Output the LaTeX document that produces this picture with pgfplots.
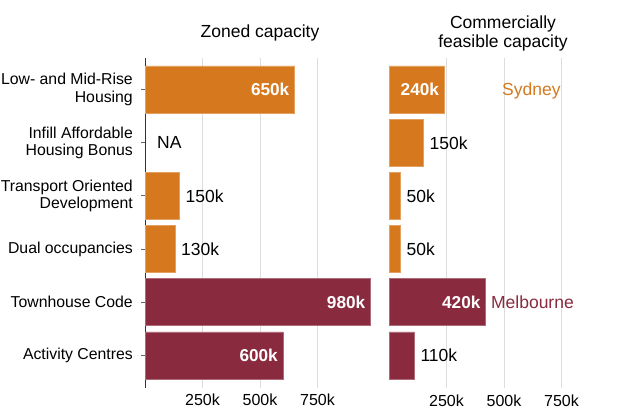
\documentclass[border=0pt]{standalone}
\usepackage{pgfplots}
\pgfplotsset{compat=1.18}
\usepackage{fontspec}
\setmainfont{Liberation Sans}
\definecolor{syd}{RGB}{213,120,30}
\definecolor{mel}{RGB}{138,42,62}
\definecolor{gridc}{RGB}{221,221,221}
\newcommand{\fs}[1]{\fontsize{#1}{#1}\selectfont}
\begin{document}
\begin{tikzpicture}
\useasboundingbox (0pt,0pt) rectangle (628pt,411pt);
\pgfplotsset{
  panel/.style={
    scale only axis, width=230pt, height=330pt,
    xmin=0, xmax=1000, ymin=-0.611, ymax=5.592,
    anchor=south west,
    xmajorgrids, grid style={gridc, line width=0.9pt},
    xtick={250,500,750}, xticklabels={250k,500k,750k},
    xticklabel style={font=\fs{16}, inner sep=0pt},
    xticklabel shift=7pt,
    axis x line*=bottom, x axis line style={draw=none},
    major x tick style={draw=none},
    clip=false,
  },
  lab/.style={only marks, mark=none, nodes near coords, point meta=explicit symbolic,
    nodes near coords style={font=\fs{17.5}, inner sep=0pt, text depth=0pt}},
  inl/.style={lab, nodes near coords style={anchor=east, white, xshift=-5pt, font=\fs{17.2}\bfseries}},
  outl/.style={lab, nodes near coords style={anchor=west, black, xshift=6pt}},
}
% Left panel: zoned capacity
\begin{axis}[panel, at={(145pt,23pt)},
  xticklabel shift=2pt,
  axis y line*=left, y axis line style={draw=black!80, line width=0.9pt},
  ytick={0,1,2,3,4,5},
  yticklabels={{Activity Centres},{Townhouse Code},{Dual occupancies},{Transport Oriented\\Development},{Infill Affordable\\Housing Bonus},{Low- and Mid-Rise\\Housing}},
  yticklabel style={font=\fontsize{15.8}{17.5}\selectfont, align=right, inner sep=0pt},
  yticklabel shift=8pt,
  tick align=outside, major tick length=4pt,
  major y tick style={draw=black!60, line width=0.8pt},
]
\addplot[xbar, bar width=47pt, fill=syd, draw=syd!70!white, line width=0.6pt]
  table[x=v, y=y] {
y v
5 650
3 150
2 130
};
\addplot[xbar, bar width=47pt, fill=mel, draw=mel!70!white, line width=0.6pt]
  table[x=v, y=y] {
y v
1 980
0 600
};
\addplot[inl] table[x=v, y=y, meta=l] {
y v l
5 650 650k
1 980 980k
0 600 600k
};
\addplot[outl] table[x=v, y=y, meta=l] {
y v l
3 150 150k
2 130 130k
4 26 NA
};
\end{axis}
% Right panel: commercially feasible capacity
\begin{axis}[panel, at={(389pt,23pt)}, hide y axis]
\addplot[xbar, bar width=47pt, fill=syd, draw=syd!70!white, line width=0.6pt]
  table[x=v, y=y] {
y v
5 240
4 150
3 50
2 50
};
\addplot[xbar, bar width=47pt, fill=mel, draw=mel!70!white, line width=0.6pt]
  table[x=v, y=y] {
y v
1 420
0 110
};
\addplot[inl] table[x=v, y=y, meta=l] {
y v l
5 240 240k
1 420 420k
};
\addplot[outl] table[x=v, y=y, meta=l] {
y v l
4 150 150k
3 50 50k
2 50 50k
0 110 110k
};
\node[anchor=west, inner sep=0pt, text depth=0pt, font=\fs{17.5}, text=syd] at (axis cs:491,5) {Sydney};
\node[anchor=west, inner sep=0pt, text depth=0pt, font=\fs{17.5}, text=mel] at (axis cs:443,1) {Melbourne};
\end{axis}
\node[font=\fs{17.5}] at (260pt,378pt) {Zoned capacity};
\node[font=\fontsize{17.5}{19}\selectfont, align=center] at (503pt,377.5pt) {Commercially\\feasible capacity};
\end{tikzpicture}
\end{document}
